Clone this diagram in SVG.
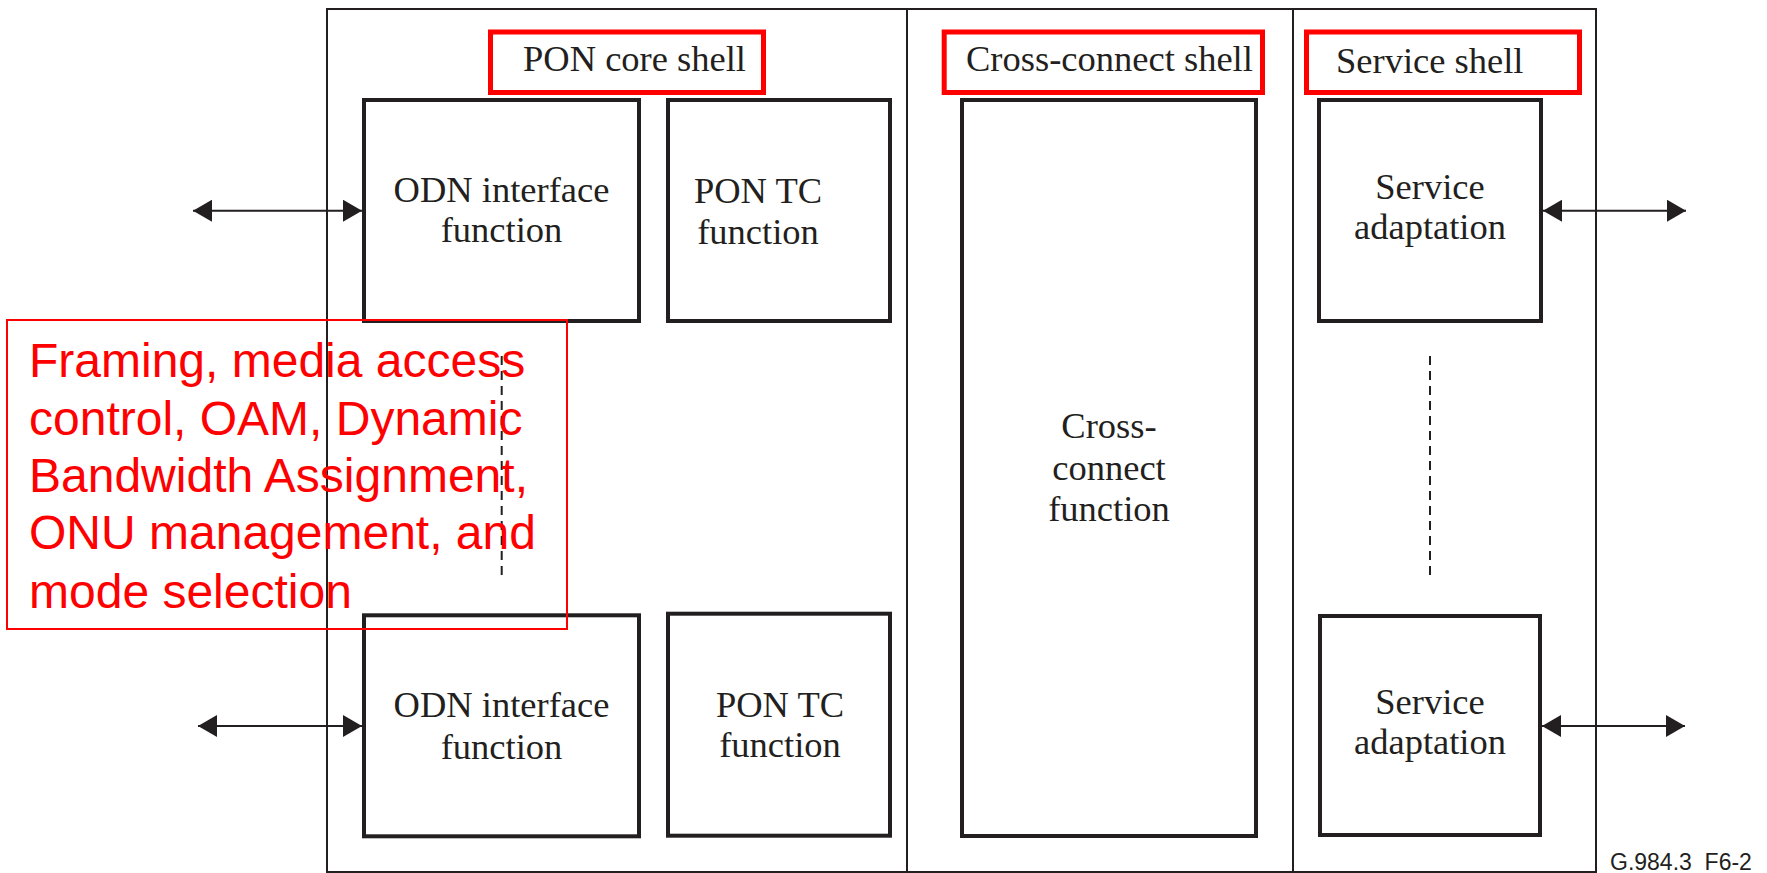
<svg xmlns="http://www.w3.org/2000/svg" width="1767" height="873" viewBox="0 0 1767 873">
<style>
.frame{fill:none;stroke:#231f20;stroke-width:2}
.box{fill:none;stroke:#231f20;stroke-width:4}
.shell{fill:none;stroke:#ff0000;stroke-width:5}
.t{font-family:"Liberation Serif","Times New Roman",serif;font-size:36.5px;fill:#231f20}
.c{text-anchor:middle}
.conn{stroke:#231f20;stroke-width:2;fill:none}
.dash{stroke:#231f20;stroke-width:2;stroke-dasharray:9 6;fill:none}
.note{font-family:"Liberation Sans",Arial,sans-serif;font-size:48px;fill:#ff0000}
.lbl{font-family:"Liberation Sans",Arial,sans-serif;font-size:23px;fill:#231f20;white-space:pre}
</style>
<defs>
<marker id="ah" markerUnits="userSpaceOnUse" markerWidth="20" markerHeight="22" refX="19" refY="11" orient="auto-start-reverse">
<path d="M0,0 L19,11 L0,22 Z" fill="#231f20"/>
</marker>
</defs>
<rect width="1767" height="873" fill="#ffffff"/>

<g id="frame">
<rect class="frame" x="327" y="9" width="1269" height="863"/>
<line class="frame" x1="907" y1="9" x2="907" y2="872"/>
<line class="frame" x1="1293" y1="9" x2="1293" y2="872"/>
</g>

<g id="pon-core-shell">
<rect class="shell" x="490.5" y="32" width="273" height="60.5"/>
<text class="t" x="523" y="71">PON core shell</text>
</g>
<g id="cross-connect-shell">
<rect class="shell" x="944.2" y="32" width="318.3" height="60.5"/>
<text class="t" x="966" y="71">Cross-connect shell</text>
</g>
<g id="service-shell">
<rect class="shell" x="1306.5" y="32" width="273" height="60.5"/>
<text class="t" x="1336" y="73">Service shell</text>
</g>

<g id="odn-top">
<rect class="box" x="364" y="100" width="275" height="221"/>
<text class="t c" x="501.5" y="202">ODN interface</text>
<text class="t c" x="501.5" y="242">function</text>
</g>
<g id="pontc-top">
<rect class="box" x="668" y="100" width="222" height="221"/>
<text class="t c" x="758" y="203">PON TC</text>
<text class="t c" x="758" y="244">function</text>
</g>
<g id="cross-connect-function">
<rect class="box" x="962" y="100" width="294" height="736"/>
<text class="t c" x="1109" y="438">Cross-</text>
<text class="t c" x="1109" y="480">connect</text>
<text class="t c" x="1109" y="521">function</text>
</g>
<g id="service-top">
<rect class="box" x="1319" y="100" width="222" height="221"/>
<text class="t c" x="1430" y="199">Service</text>
<text class="t c" x="1430" y="239">adaptation</text>
</g>
<g id="odn-bottom">
<rect class="box" x="364" y="615.3" width="275" height="221"/>
<text class="t c" x="501.5" y="717">ODN interface</text>
<text class="t c" x="501.5" y="759">function</text>
</g>
<g id="pontc-bottom">
<rect class="box" x="668" y="613.7" width="222" height="222"/>
<text class="t c" x="780" y="717">PON TC</text>
<text class="t c" x="780" y="757">function</text>
</g>
<g id="service-bottom">
<rect class="box" x="1320" y="616" width="220" height="219"/>
<text class="t c" x="1430" y="714">Service</text>
<text class="t c" x="1430" y="754">adaptation</text>
</g>

<g id="connectors">
<line class="conn" x1="193" y1="210.7" x2="362" y2="210.7" marker-start="url(#ah)" marker-end="url(#ah)"/>
<line class="conn" x1="198" y1="726" x2="362" y2="726" marker-start="url(#ah)" marker-end="url(#ah)"/>
<line class="conn" x1="1543" y1="210.7" x2="1686" y2="210.7" marker-start="url(#ah)" marker-end="url(#ah)"/>
<line class="conn" x1="1542" y1="726" x2="1685" y2="726" marker-start="url(#ah)" marker-end="url(#ah)"/>
<line class="dash" x1="501.7" y1="356" x2="501.7" y2="577"/>
<line class="dash" x1="1430" y1="356" x2="1430" y2="577"/>
</g>

<g id="annotation">
<rect x="7" y="320" width="560" height="309" fill="none" stroke="#ff0000" stroke-width="2"/>
<text class="note" x="29" y="377">Framing, media access</text>
<text class="note" x="29" y="435">control, OAM, Dynamic</text>
<text class="note" x="29" y="492">Bandwidth Assignment,</text>
<text class="note" x="29" y="549">ONU management, and</text>
<text class="note" x="29" y="608">mode selection</text>
</g>

<g id="figure-label">
<text class="lbl" x="1610" y="870">G.984.3  F6-2</text>
</g>
</svg>
